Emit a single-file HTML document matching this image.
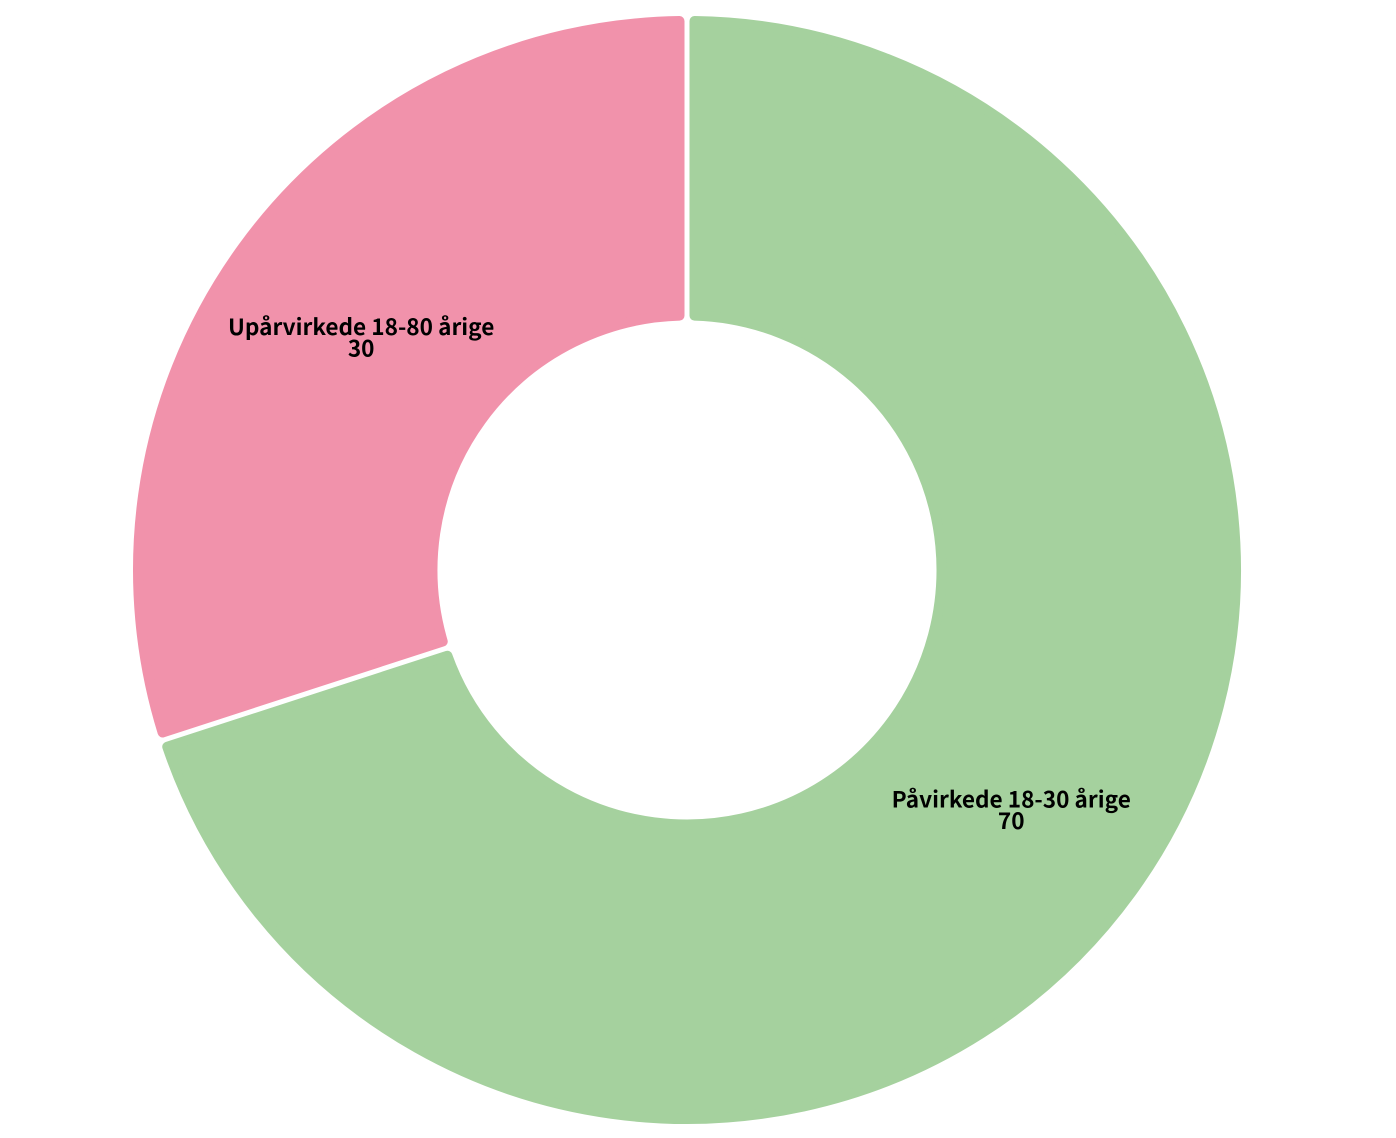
<!DOCTYPE html>
<html lang="da">
<head>
<meta charset="utf-8">
<title>Donut chart</title>
<style>
html,body{margin:0;padding:0;background:#fff;width:1396px;height:1138px;overflow:hidden}
svg{display:block}
text{font-family:"Noto Sans CJK JP","Liberation Sans",sans-serif;font-weight:700;font-size:22.6px;fill:#000;text-anchor:middle}
</style>
</head>
<body>
<svg id="chart" width="1396" height="1138" viewBox="0 0 1396 1138" xmlns="http://www.w3.org/2000/svg"></svg>
<script>
const categories = ['Påvirkede 18-30 årige', 'Upårvirkede 18-80 årige'];
const values = [70, 30];
const sliceNames = ['slice-pavirkede', 'slice-uparvirkede'];
const labelNames = ['label-pavirkede', 'label-uparvirkede'];
const colors = ['#a5d19e', '#f192ab'];

const NS = 'http://www.w3.org/2000/svg';
const svg = document.getElementById('chart');
const cx = 687, cy = 570, outerR = 554, innerR = 249.5;
const gap = 2.5, corner = 5;
const total = values.reduce((a, b) => a + b, 0);

function angleScale(v) { return v / total * Math.PI * 2; }
function polar(r, a) { return [cx + r * Math.sin(a), cy - r * Math.cos(a)]; }

function slicePath(a0, a1) {
  const d = gap + corner;
  const ro = outerR - corner, ri = innerR + corner;
  const oa0 = a0 + Math.asin(d / ro), oa1 = a1 - Math.asin(d / ro);
  const ia0 = a0 + Math.asin(d / ri), ia1 = a1 - Math.asin(d / ri);
  const large = (oa1 - oa0) > Math.PI ? 1 : 0;
  const largeI = (ia1 - ia0) > Math.PI ? 1 : 0;
  const p1 = polar(ro, oa0), p2 = polar(ro, oa1), p3 = polar(ri, ia1), p4 = polar(ri, ia0);
  return 'M' + p1[0] + ' ' + p1[1] +
    'A' + ro + ' ' + ro + ' 0 ' + large + ' 1 ' + p2[0] + ' ' + p2[1] +
    'L' + p3[0] + ' ' + p3[1] +
    'A' + ri + ' ' + ri + ' 0 ' + largeI + ' 0 ' + p4[0] + ' ' + p4[1] + 'Z';
}

let start = 0;
values.forEach(function (v, i) {
  const end = start + angleScale(v);
  const path = document.createElementNS(NS, 'path');
  
  
  path.setAttribute('d', slicePath(start, end));
  path.setAttribute('fill', colors[i]);
  path.setAttribute('stroke', colors[i]);
  path.setAttribute('stroke-width', corner * 2);
  path.setAttribute('stroke-linejoin', 'round');
  svg.appendChild(path);
  start = end;
});

start = 0;
values.forEach(function (v, i) {
  const end = start + angleScale(v);
  const mid = polar((outerR + innerR) / 2, (start + end) / 2);
  const label = document.createElementNS(NS, 'text');
  
  
  const line1 = document.createElementNS(NS, 'tspan');
  line1.setAttribute('x', mid[0] - 0.8);
  line1.setAttribute('y', mid[1] + 1.2);
  line1.textContent = categories[i];
  const line2 = document.createElementNS(NS, 'tspan');
  line2.setAttribute('x', mid[0] - 0.8);
  line2.setAttribute('y', mid[1] + 22.7);
  line2.textContent = String(v);
  label.appendChild(line1);
  label.appendChild(line2);
  svg.appendChild(label);
  start = end;
});
</script>
</body>
</html>
